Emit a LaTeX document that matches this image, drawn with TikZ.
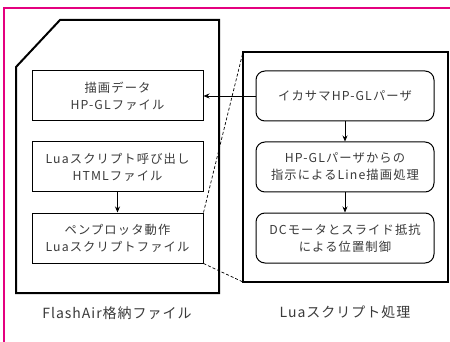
\documentclass[tikz,border=0pt]{standalone}
\usepackage{fontspec}
\setmainfont{Noto Sans CJK JP}
\usetikzlibrary{arrows.meta}
\definecolor{frame}{HTML}{E4007F}
\definecolor{txt}{HTML}{3A3A3A}
\begin{document}
\begin{tikzpicture}[x=1pt,y=-1pt,
  filebox/.style={draw=black,line width=1pt,minimum width=171pt,minimum height=50pt,align=center,inner sep=0pt,text=txt,font=\fontsize{12.3}{17}\selectfont\addfontfeature{LetterSpace=9}},
  procbox/.style={filebox,rounded corners=9pt,minimum width=178pt},
  biglabel/.style={text=txt,font=\fontsize{14}{16}\selectfont\addfontfeature{LetterSpace=7}},
  flow/.style={-{Stealth[length=6pt,width=5pt]},line width=0.8pt},
  zoomline/.style={densely dashed,line width=0.7pt}]
\useasboundingbox (0,0) rectangle (450,342);
\fill[white] (0,0) rectangle (450,342);
% frame
\draw[frame,line width=1.6pt] (4,345) -- (4,8) -- (453,8);
% SD card outline
\draw[line width=2pt] (60,20) -- (219,20) -- (219,293) -- (16,293) -- (16,67) -- cycle;
% right container
\draw[line width=2pt] (243,52) rectangle (448,282);
% left boxes
\node[filebox] (f1) at (117.5,96) {描画データ\\HP-GLファイル};
\node[filebox] (f2) at (117.5,167) {Luaスクリプト呼び出し\\HTMLファイル};
\node[filebox] (f3) at (117.5,238) {ペンプロッタ動作\\Luaスクリプトファイル};
% right boxes
\node[procbox] (p1) at (345,96) {イカサマHP-GLパーザ};
\node[procbox] (p2) at (345,167) {HP-GLパーザからの\\指示によるLine描画処理};
\node[procbox] (p3) at (345,238) {DCモータとスライド抵抗\\による位置制御};
% labels
\node[biglabel] (l1) at (117,313) {FlashAir格納ファイル};
\node[biglabel] (l2) at (345,312) {Luaスクリプト処理};
% arrows
\draw[flow] (p1.west) -- (f1.east);
\draw[flow] (f2.south) -- (f3.north);
\draw[flow] (p1.south) -- (p2.north);
\draw[flow] (p2.south) -- (p3.north);
% dashed zoom lines
\coordinate (c1) at (243,52);
\coordinate (c2) at (243,282);
\draw[zoomline] (f3.north east) -- (c1);
\draw[zoomline] (f3.south east) -- (c2);
\end{tikzpicture}
\end{document}
